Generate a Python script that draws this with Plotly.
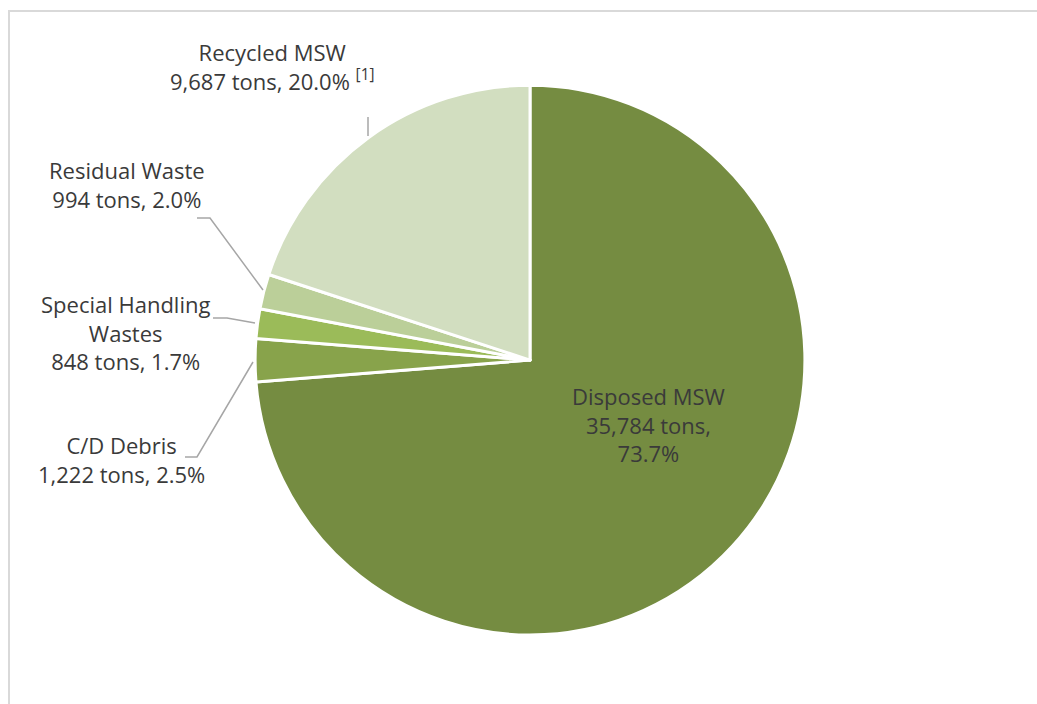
import plotly.graph_objects as go

categories = ["Disposed MSW", "C/D Debris", "Special Handling<br>Wastes", "Residual Waste", "Recycled MSW"]
tons = [35784, 1222, 848, 994, 9687]
colors = ["#758C41", "#88A34B", "#9BBB59", "#BBCF99", "#D2DEC0"]
notes = ["", "", "", "", " <sup>[1]</sup>"]

W, H = 1037, 704
total = sum(tons)

fig = go.Figure(go.Pie(
    labels=categories, values=tons, sort=False, direction="clockwise", rotation=0,
    marker=dict(colors=colors, line=dict(color="white", width=3)),
    textinfo="none", hoverinfo="label+value+percent", showlegend=False,
    domain=dict(x=[0.2459, 0.7763], y=[0.098, 0.879]),
))

def px(x):
    return x / W

def py(y):
    return 1 - y / H

# label centres (pixels) and wrapping choices
label_pos = [(648, 425), (121, 459), (125, 332), (127, 185), (272, 66)]
tons_sep = [",<br>", ", ", ", ", ", ", ", "]
TXT = "#3A3A3A"
FONT = "Open Sans"

for cat, t, pos, sep, note in zip(categories, tons, label_pos, tons_sep, notes):
    pct = 100 * t / total
    text = f"{cat}<br>{t:,} tons{sep}{pct:.1f}%{note}"
    fig.add_annotation(x=px(pos[0]), y=py(pos[1]), xref="paper", yref="paper",
                       text=text, showarrow=False, xanchor="center", yanchor="middle",
                       font=dict(family=FONT, size=22, color=TXT), align="center")

# leader lines
leaders = [
    [(368, 117), (368, 136)],
    [(197, 218), (210, 218), (263, 290)],
    [(213, 318), (227, 318), (255, 323)],
    [(185, 457), (197, 457), (253, 362)],
]
for pts in leaders:
    path = "M " + " L ".join(f"{px(x)},{py(y)}" for x, y in pts)
    fig.add_shape(type="path", path=path, xref="paper", yref="paper",
                  line=dict(color="#A6A6A6", width=1.5))

# outer frame
fig.add_shape(type="rect", xref="paper", yref="paper", x0=px(9), x1=1.05, y0=-0.05, y1=py(11),
              line=dict(color="#D9D9D9", width=2), fillcolor="rgba(0,0,0,0)")

fig.update_layout(width=W, height=H, margin=dict(l=0, r=0, t=0, b=0),
                  paper_bgcolor="white", plot_bgcolor="white")

fig.write_html("out.html", config={"displayModeBar": False},
               post_script="document.body.style.margin='0';document.body.style.overflow='hidden';")
